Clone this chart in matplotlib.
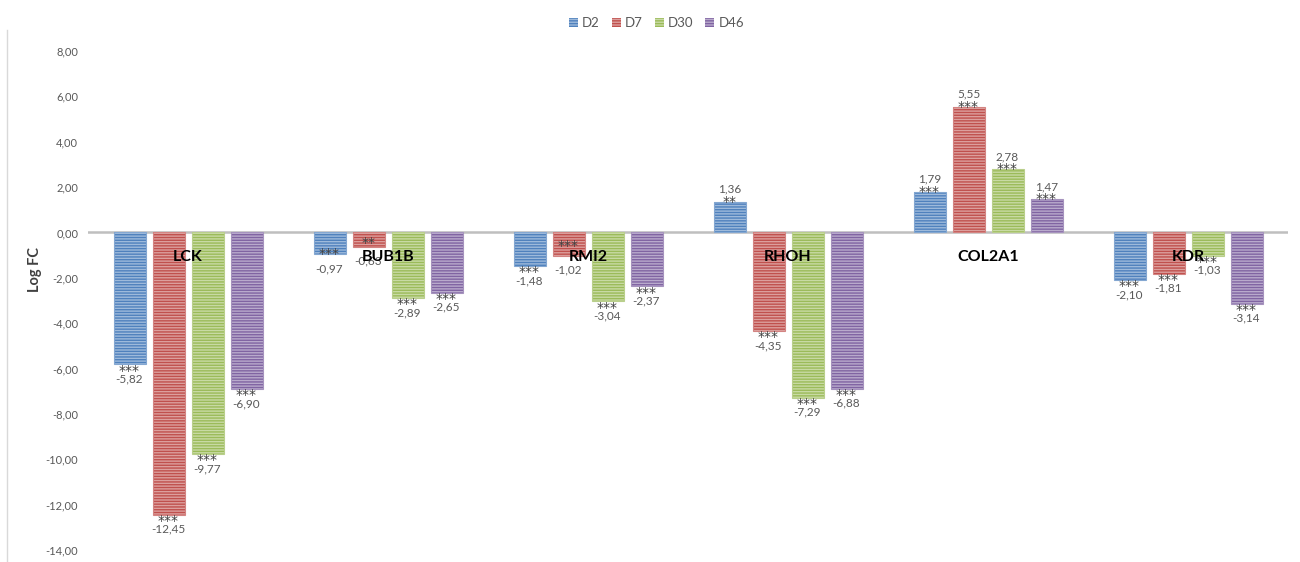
import numpy as np
import matplotlib.pyplot as plt
from matplotlib.colors import to_rgb
from matplotlib.patches import Patch
from matplotlib.lines import Line2D

plt.rcParams['font.family'] = ['Lato', 'DejaVu Sans']
plt.rcParams['hatch.linewidth'] = 1.0

# log fold change per gene and time point
genes = ["LCK", "BUB1B", "RMI2", "RHOH", "COL2A1", "KDR"]
days = ["D2", "D7", "D30", "D46"]
d2 = [-5.82, -0.97, -1.48, 1.36, 1.79, -2.10]
d7 = [-12.45, -0.63, -1.02, -4.35, 5.55, -1.81]
d30 = [-9.77, -2.89, -3.04, -7.29, 2.78, -1.03]
d46 = [-6.90, -2.65, -2.37, -6.88, 1.47, -3.14]

# significance marks
sig_d2 = ["***", "***", "***", "**", "***", "***"]
sig_d7 = ["***", "**", "***", "***", "***", "***"]
sig_d30 = ["***", "***", "***", "***", "***", "***"]
sig_d46 = ["***", "***", "***", "***", "***", "***"]

yticks = [-14, -12, -10, -8, -6, -4, -2, 0, 2, 4, 6, 8]

series = [d2, d7, d30, d46]
sigs = [sig_d2, sig_d7, sig_d30, sig_d46]
colors = ["#4F81BD", "#C0504D", "#9BBB59", "#8064A2"]

# short bars: stars pushed back inside the bar end (points)
star_shift = {(1, 0): 5, (1, 1): 7, (2, 1): 11.5}


def lighten(c, amt=0.45):
    r, g, b = to_rgb(c)
    return (r + (1 - r) * amt, g + (1 - g) * amt, b + (1 - b) * amt)


def fmt(v):
    return f"{v:.2f}".replace(".", ",")


fig = plt.figure(figsize=(13, 5.62), dpi=100)
ax = fig.add_axes([88 / 1300, 12 / 562, 1200 / 1300, 499 / 562])

x = np.arange(len(genes))
width = 0.16
step = 0.195

for k, (vals, sig, col) in enumerate(zip(series, sigs, colors)):
    xs = x + (k - 1.5) * step
    ax.bar(xs, vals, width, color=lighten(col), edgecolor=col, linewidth=0,
           hatch="------", zorder=2)
    ax.bar(xs, vals, width, fill=False, edgecolor=lighten(col, 0.3),
           linewidth=0.8, zorder=3)
    for i, (xi, v, s) in enumerate(zip(xs, vals, sig)):
        if v < 0:
            dy = star_shift.get((i, k), 0)
            ax.annotate(s, (xi, v), xytext=(0, 0.5 + dy), textcoords="offset points",
                        ha="center", va="top", fontsize=10, family="DejaVu Sans",
                        color="#404040", zorder=4)
            ax.annotate(fmt(v), (xi, v), xytext=(0, -6.5), textcoords="offset points",
                        ha="center", va="top", fontsize=8.5, color="#595959", zorder=4)
        else:
            ax.annotate(s, (xi, v), xytext=(0, -5), textcoords="offset points",
                        ha="center", va="bottom", fontsize=10, family="DejaVu Sans",
                        color="#404040", zorder=4)
            ax.annotate(fmt(v), (xi, v), xytext=(0, 5), textcoords="offset points",
                        ha="center", va="bottom", fontsize=8.5, color="#595959", zorder=4)

# gene names sit just under the zero line
for xi, g in zip(x, genes):
    ax.text(xi, -1.1, g, ha="center", va="center", fontsize=11.5,
            fontweight="bold", color="black", zorder=5)

ax.axhline(0, color="#BFBFBF", lw=1.8, zorder=1)
ax.set_xlim(-0.5, 5.5)
ax.set_ylim(-14, 8)
ax.set_xticks([])
ax.set_yticks(yticks)
ax.set_yticklabels([fmt(t) for t in yticks], fontsize=8, color="#595959")
ax.tick_params(axis="y", length=0, pad=7)
for sp in ax.spines.values():
    sp.set_visible(False)

fig.text(35 / 1300, 1 - 270 / 562, "Log FC", rotation=90, ha="center", va="center",
         fontsize=10.5, fontweight="bold", color="#404040")

# chart border on the left
fig.add_artist(Line2D([7 / 1300, 7 / 1300], [0, 1 - 30 / 562], color="#D9D9D9", lw=1))

handles = [Patch(facecolor=lighten(c), edgecolor=c, hatch="------", linewidth=0)
           for c in colors]
fig.legend(handles, days, loc="center", bbox_to_anchor=(0.505, 1 - 23 / 562), ncol=4,
           frameon=False, fontsize=9.5, handlelength=0.7, handleheight=0.7,
           columnspacing=0.9, handletextpad=0.3, labelcolor="#595959")

fig.savefig("out.png", dpi=100)
